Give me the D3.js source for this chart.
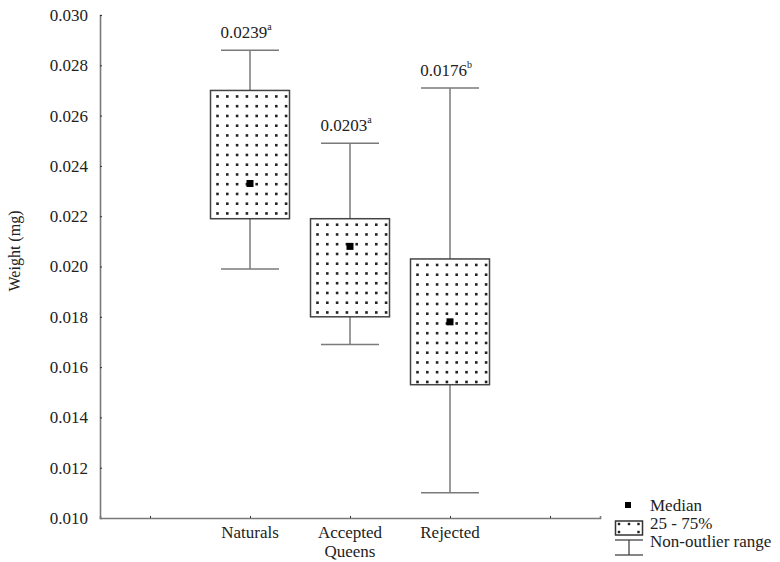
<!DOCTYPE html>
<html>
<head>
<meta charset="utf-8">
<script src="https://cdn.jsdelivr.net/npm/d3@7"></script>
<style>
  body { margin: 0; background: #fff; }
  svg { display: block; }
</style>
</head>
<body>
<svg></svg>
<script>
// data
const categories = ['Naturals', 'Accepted\nQueens', 'Rejected'];
const whiskerLow = [0.0199, 0.0169, 0.0110];
const boxLow = [0.0219, 0.0180, 0.0153];
const medians = [0.0233, 0.0208, 0.0178];
const boxHigh = [0.0270, 0.0219, 0.0203];
const whiskerHigh = [0.0286, 0.0249, 0.0271];
const meanLabels = ['0.0239', '0.0203', '0.0176'];
const letters = ['a', 'a', 'b'];
const yTicks = [0.010, 0.012, 0.014, 0.016, 0.018, 0.020, 0.022, 0.024, 0.026, 0.028, 0.030];
const xTicks = [-1, 0, 1, 2, 3];

const width = 780;
const height = 562;
const axisColor = '#7a7a7a';
const serif = "'Liberation Serif', 'Times New Roman', serif";

const svg = d3.select('svg')
    .attr('width', width)
    .attr('height', height);

const x = d3.scaleLinear().domain([-1.5, 3.5]).range([100, 600]);
const y = d3.scaleLinear().domain([0.010, 0.030]).range([518, 15]);

const data = categories.map((c, i) => ({
    name: c, i: i,
    wl: whiskerLow[i], bl: boxLow[i], med: medians[i],
    bh: boxHigh[i], wh: whiskerHigh[i],
    label: meanLabels[i], letter: letters[i]
}));

// axes
const yAxis = d3.axisLeft(y)
    .tickValues(yTicks)
    .tickSize(-2)
    .tickPadding(12)
    .tickFormat(d3.format('.3f'));

const gy = svg.append('g')
    .attr('transform', 'translate(100,0)')
    .call(yAxis);
gy.select('.domain').attr('stroke', axisColor).attr('stroke-width', 1.6);
gy.selectAll('.tick line').attr('stroke', '#333');
gy.selectAll('.tick text')
    .attr('fill', '#222')
    .style('font-family', serif)
    .style('font-size', '17px');

const xAxis = d3.axisBottom(x)
    .tickValues(xTicks)
    .tickSize(-2)
    .tickFormat('');

const gx = svg.append('g')
    .attr('transform', 'translate(0,518)')
    .call(xAxis);
gx.select('.domain').attr('stroke', axisColor).attr('stroke-width', 1.6);
gx.selectAll('.tick line').attr('stroke', '#333');

// category labels
const catLabels = svg.append('g').selectAll('text')
    .data(data)
    .join('text')
    .attr('x', d => x(d.i))
    .attr('y', 538)
    .attr('text-anchor', 'middle')
    .attr('fill', '#222')
    .style('font-family', serif)
    .style('font-size', '17px');
catLabels.each(function (d) {
    const lines = d.name.split('\n');
    d3.select(this).selectAll('tspan')
        .data(lines)
        .join('tspan')
        .attr('x', x(d.i))
        .attr('dy', (l, j) => j === 0 ? 0 : 19)
        .text(l => l);
});

// y title
svg.append('text')
    .attr('transform', 'translate(20,251) rotate(-90)')
    .attr('text-anchor', 'middle')
    .attr('fill', '#222')
    .style('font-family', serif)
    .style('font-size', '16px')
    .text('Weight (mg)');

const boxW = 79;
const capW = 58;

const boxes = svg.append('g').selectAll('g')
    .data(data)
    .join('g');

// whisker line
boxes.append('line')
    .attr('x1', d => x(d.i)).attr('x2', d => x(d.i))
    .attr('y1', d => y(d.wh)).attr('y2', d => y(d.wl))
    .attr('stroke', axisColor).attr('stroke-width', 1.5);

// caps
boxes.selectAll('line.cap')
    .data(d => [d.wh, d.wl].map(v => ({ i: d.i, v: v })))
    .join('line')
    .attr('class', 'cap')
    .attr('x1', d => x(d.i) - capW / 2).attr('x2', d => x(d.i) + capW / 2)
    .attr('y1', d => y(d.v)).attr('y2', d => y(d.v))
    .attr('stroke', axisColor).attr('stroke-width', 1.5);

// box
boxes.append('rect')
    .attr('x', d => x(d.i) - boxW / 2)
    .attr('y', d => y(d.bh))
    .attr('width', boxW)
    .attr('height', d => y(d.bl) - y(d.bh))
    .attr('fill', '#fff')
    .attr('stroke', '#444')
    .attr('stroke-width', 1.5);

// dot fill inside boxes
boxes.each(function (d) {
    const left = x(d.i) - boxW / 2;
    const top = y(d.bh);
    const bottom = y(d.bl);
    const pts = [];
    for (let cx = left + 7; cx < left + boxW - 1; cx += 9.8) {
        for (let cy = top + 6; cy < bottom - 2; cy += 9.75) {
            pts.push([cx, cy]);
        }
    }
    d3.select(this).append('g').selectAll('rect')
        .data(pts)
        .join('rect')
        .attr('x', p => p[0] - 1.3)
        .attr('y', p => p[1] - 1.3)
        .attr('width', 2.6)
        .attr('height', 2.6)
        .attr('fill', '#222');
});

// median
boxes.append('rect')
    .attr('x', d => x(d.i) - 3.5)
    .attr('y', d => y(d.med) - 3.5)
    .attr('width', 7)
    .attr('height', 7)
    .attr('fill', '#000');

// mean labels
const lab = boxes.append('text')
    .attr('x', d => x(d.i) - 4)
    .attr('y', d => y(d.wh) - 12)
    .attr('text-anchor', 'middle')
    .attr('fill', '#222')
    .style('font-family', serif)
    .style('font-size', '17px');
lab.append('tspan').text(d => d.label);
lab.append('tspan')
    .attr('dy', -8)
    .style('font-size', '10px')
    .text(d => d.letter);

// legend
const lg = svg.append('g');
lg.append('rect')
    .attr('x', 625).attr('y', 502).attr('width', 6).attr('height', 6)
    .attr('fill', '#000');
lg.append('rect')
    .attr('x', 615.5).attr('y', 521).attr('width', 27).attr('height', 14)
    .attr('fill', '#fff').attr('stroke', '#333').attr('stroke-width', 1.5);
[[619, 524], [629, 524], [638.5, 524], [619, 532], [638.5, 532]].forEach(p => {
    lg.append('rect')
        .attr('x', p[0] - 1.2).attr('y', p[1] - 1.2).attr('width', 2.4).attr('height', 2.4)
        .attr('fill', '#222');
});
lg.append('line').attr('x1', 615).attr('x2', 643).attr('y1', 540).attr('y2', 540)
    .attr('stroke', '#444').attr('stroke-width', 1.3);
lg.append('line').attr('x1', 629).attr('x2', 629).attr('y1', 540).attr('y2', 555)
    .attr('stroke', '#444').attr('stroke-width', 1.3);
lg.append('line').attr('x1', 615).attr('x2', 643).attr('y1', 555).attr('y2', 555)
    .attr('stroke', '#444').attr('stroke-width', 1.3);

const legendText = ['Median', '25 - 75%', 'Non-outlier range'];
lg.selectAll('text.lt')
    .data(legendText)
    .join('text')
    .attr('class', 'lt')
    .attr('x', 650)
    .attr('y', (d, i) => 511 + i * 18)
    .attr('fill', '#222')
    .style('font-family', serif)
    .style('font-size', '17px')
    .text(d => d);
</script>
</body>
</html>
